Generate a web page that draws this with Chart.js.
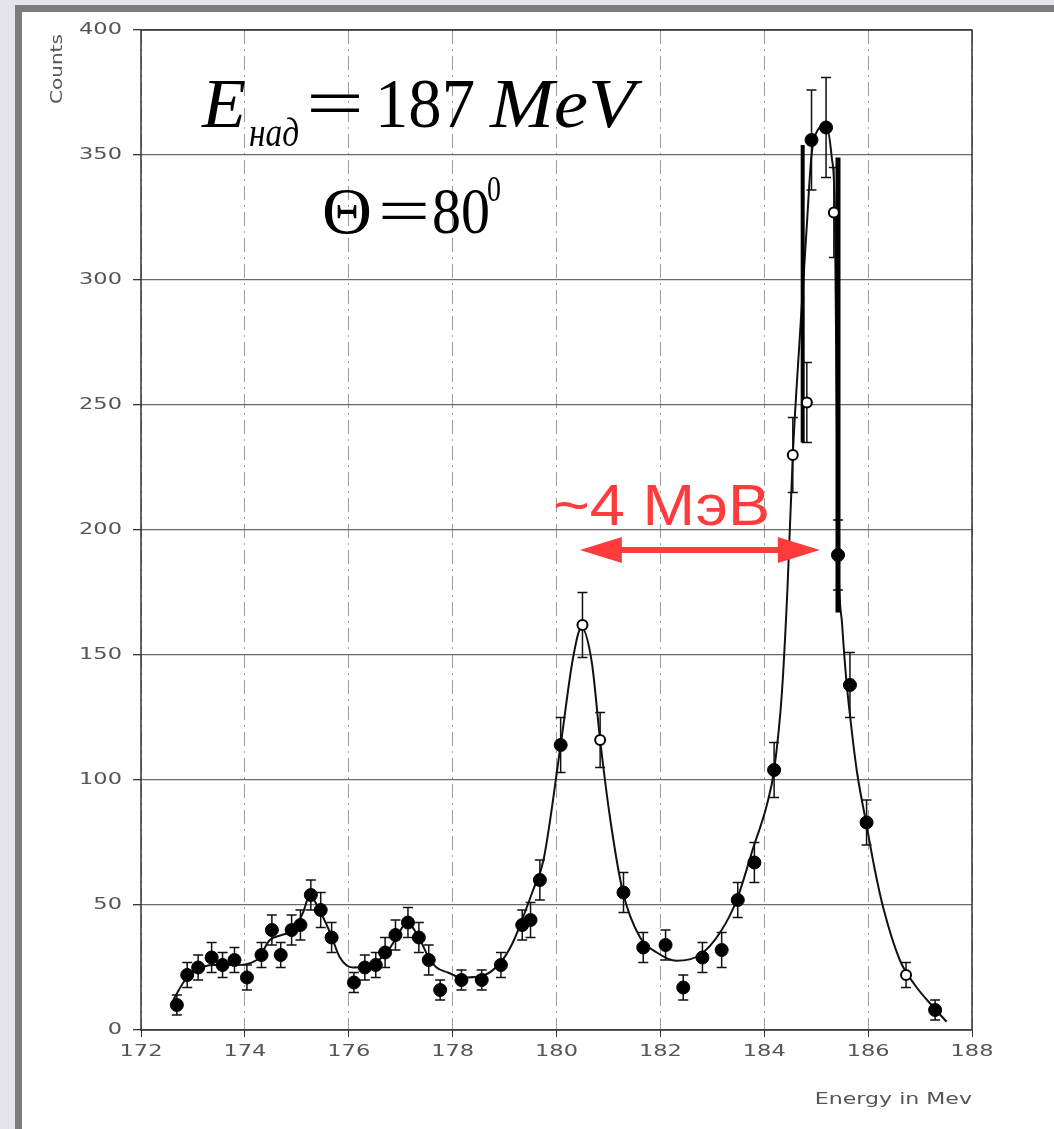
<!DOCTYPE html>
<html lang="ru">
<head>
<meta charset="UTF-8">
<title>Counts vs Energy in MeV</title>
<style>
  html, body { margin: 0; padding: 0; background: #e4e4ea; overflow: hidden; }
  #frame {
    position: absolute; left: 15px; top: 5px; width: 1100px; height: 1200px;
    background: #fff; border-left: 7px solid #7c7c7c; border-top: 7px solid #7c7c7c;
  }
  #chart { position: absolute; left: 0; top: 0; }
</style>
</head>
<body>
<div id="frame"></div>
<canvas id="chart" width="1054" height="1129"></canvas>

<script src="https://cdn.jsdelivr.net/npm/chart.js"></script>
<script>
// measured points (energy in MeV, counts, error bar half-length)
const energy = [172.69, 172.89, 173.10, 173.36, 173.57, 173.80, 174.04, 174.32, 174.52, 174.69,
                174.90, 175.07, 175.27, 175.46, 175.67, 176.10, 176.31, 176.52, 176.70, 176.90,
                177.14, 177.35, 177.54, 177.76, 178.17, 178.56, 178.93, 179.34, 179.50, 179.68,
                180.08, 180.50, 180.84, 181.29, 181.67, 182.10, 182.44, 182.81, 183.18, 183.49,
                183.81, 184.19, 184.55, 184.82, 184.91, 185.19, 185.34, 185.42, 185.65, 185.97,
                186.73, 187.29];
const counts = [10, 22, 25, 29, 26, 28, 21, 30, 40, 30,
                40, 42, 54, 48, 37, 19, 25, 26, 31, 38,
                43, 37, 28, 16, 20, 20, 26, 42, 44, 60,
                114, 162, 116, 55, 33, 34, 17, 29, 32, 52,
                67, 104, 230, 251, 356, 361, 327, 190, 138, 83,
                22, 8];
const errors = [4, 5, 5, 6, 5, 5, 5, 5, 6, 5,
                6, 6, 6, 7, 6, 4, 5, 5, 6, 6,
                6, 6, 6, 4, 4, 4, 5, 6, 7, 8,
                11, 13, 11, 8, 6, 6, 5, 6, 7, 7,
                8, 11, 15, 16, 20, 20, 18, 14, 13, 9,
                5, 4];
// 1 = open circle
const hollow = [0, 0, 0, 0, 0, 0, 0, 0, 0, 0,
                0, 0, 0, 0, 0, 0, 0, 0, 0, 0,
                0, 0, 0, 0, 0, 0, 0, 0, 0, 0,
                0, 1, 1, 0, 0, 0, 0, 0, 0, 0,
                0, 0, 1, 1, 0, 0, 1, 0, 0, 0,
                1, 0];

// fitted curve
const fitE = [172.62, 172.85, 173.07, 173.39, 173.79, 174.23, 174.48, 174.71, 174.93, 175.12,
              175.25, 175.41, 175.64, 175.83, 176.08, 176.37, 176.73, 176.92, 177.12, 177.35,
              177.54, 177.69, 177.91, 178.17, 178.56, 178.91, 179.16, 179.39, 179.55, 179.75,
              180.08, 180.32, 180.48, 180.68, 180.84, 181.03, 181.28, 181.61, 181.93, 182.31,
              182.76, 183.15, 183.47, 183.79, 184.05, 184.19, 184.34, 184.45, 184.55, 184.69,
              184.82, 184.91, 185.03, 185.19, 185.30, 185.36, 185.42, 185.50, 185.58, 185.65,
              185.78, 185.97, 186.13, 186.29, 186.61, 186.90, 187.25, 187.51];
const fitC = [12, 20, 24, 26, 26, 28, 36, 38, 40, 47,
              54, 49, 39, 29, 25, 25.6, 31, 37, 43, 37,
              29, 25, 23, 21, 21.6, 26.7, 35, 47, 56, 68,
              114, 149, 161, 147, 116, 85, 55, 37, 31, 27.7,
              30, 39, 52, 73, 90, 104, 135, 178, 230, 279,
              322, 350, 360, 362, 349, 327, 195, 162, 140, 126,
              104, 82, 64, 49, 28, 18, 9.3, 3.3];

// hand-drawn vertical strokes near the main peak
const markE = [184.74, 185.42];
const markTop = [354, 349];
const markBottom = [235, 167];
const markWidth = [4, 5];

// red double arrow (~4 MeV)
const arrowFrom = 180.45;
const arrowTo = 185.07;
const arrowAt = 192;

const xTicks = [172, 174, 176, 178, 180, 182, 184, 186, 188];
const yTicks = [0, 50, 100, 150, 200, 250, 300, 350, 400];

const scanGrey = '#555';

function wideText(ctx, text, x, y, sx, align) {
  ctx.save();
  ctx.translate(x, y);
  ctx.scale(sx, 1);
  ctx.textAlign = align;
  ctx.fillText(text, 0, 0);
  ctx.restore();
}

function fitText(ctx, text, x, base, font, width) {
  ctx.font = font;
  const w = ctx.measureText(text).width;
  ctx.save();
  ctx.translate(x, base);
  ctx.scale(width / w, 1);
  ctx.textAlign = 'left';
  ctx.textBaseline = 'alphabetic';
  ctx.fillText(text, 0, 0);
  ctx.restore();
}

const scanPlugin = {
  id: 'scan',
  beforeDatasetsDraw(chart) {
    const { ctx, chartArea: a, scales: { x, y } } = chart;
    ctx.save();
    ctx.strokeStyle = '#333';
    ctx.lineWidth = 1.5;
    ctx.strokeRect(a.left, a.top, a.right - a.left, a.bottom - a.top);

    // error bars
    ctx.strokeStyle = '#111';
    ctx.lineWidth = 1.5;
    energy.forEach((e, i) => {
      const px = x.getPixelForValue(e);
      const top = y.getPixelForValue(counts[i] + errors[i]);
      const bot = y.getPixelForValue(Math.max(0, counts[i] - errors[i]));
      ctx.beginPath();
      ctx.moveTo(px, top); ctx.lineTo(px, bot);
      ctx.moveTo(px - 5, top); ctx.lineTo(px + 5, top);
      ctx.moveTo(px - 5, bot); ctx.lineTo(px + 5, bot);
      ctx.stroke();
    });
    ctx.restore();
  },
  afterDraw(chart) {
    const { ctx, chartArea: a, scales: { x, y } } = chart;
    ctx.save();

    // tick labels, wide lettering like the scan
    ctx.fillStyle = scanGrey;
    ctx.font = '15px "DejaVu Sans"';
    ctx.textBaseline = 'middle';
    yTicks.forEach(v => wideText(ctx, String(v), a.left - 19, y.getPixelForValue(v), 1.5, 'right'));
    ctx.textBaseline = 'top';
    xTicks.forEach(v => wideText(ctx, String(v), x.getPixelForValue(v), a.bottom + 15, 1.5, 'center'));

    // axis titles
    ctx.font = '16px "DejaVu Sans"';
    ctx.textBaseline = 'alphabetic';
    ctx.save();
    ctx.translate(62, 104);
    ctx.rotate(-Math.PI / 2);
    wideText(ctx, 'Counts', 0, 0, 1.25, 'left');
    ctx.restore();
    wideText(ctx, 'Energy in Mev', 972, 1104, 1.38, 'right');

    // formula
    ctx.fillStyle = '#000';
    fitText(ctx, 'E', 202, 127, 'italic 70px "Liberation Serif"', 44);
    fitText(ctx, 'над', 249, 146, 'italic 40px "Liberation Serif"', 50);
    fitText(ctx, '=', 306, 127, '70px "Liberation Serif"', 58);
    fitText(ctx, '187', 375, 127, '70px "Liberation Serif"', 100);
    fitText(ctx, 'MeV', 490, 127, 'italic 70px "Liberation Serif"', 145);
    fitText(ctx, 'Θ', 322, 233, '66px "Liberation Serif"', 50);
    fitText(ctx, '=', 378, 233, '66px "Liberation Serif"', 52);
    fitText(ctx, '80', 432, 233, '66px "Liberation Serif"', 58);
    fitText(ctx, '0', 487, 201, '36px "Liberation Serif"', 14);

    // red annotation
    const red = '#ff3b3b';
    ctx.fillStyle = red;
    fitText(ctx, '~4 МэВ', 553, 525, '58px "Liberation Sans"', 217);
    const x1 = x.getPixelForValue(arrowFrom);
    const x2 = x.getPixelForValue(arrowTo);
    const ay = y.getPixelForValue(arrowAt);
    const head = 42, half = 13;
    ctx.strokeStyle = red;
    ctx.lineWidth = 6;
    ctx.beginPath();
    ctx.moveTo(x1 + head - 2, ay); ctx.lineTo(x2 - head + 2, ay);
    ctx.stroke();
    ctx.beginPath();
    ctx.moveTo(x1, ay); ctx.lineTo(x1 + head, ay - half); ctx.lineTo(x1 + head, ay + half); ctx.closePath();
    ctx.moveTo(x2, ay); ctx.lineTo(x2 - head, ay - half); ctx.lineTo(x2 - head, ay + half); ctx.closePath();
    ctx.fill();

    ctx.restore();
  }
};

const pointData = energy.map((e, i) => ({ x: e, y: counts[i] }));
const curveData = fitE.map((e, i) => ({ x: e, y: fitC[i] }));

const markSets = markE.map((e, i) => ({
  data: [{ x: e, y: markTop[i] }, { x: e, y: markBottom[i] }],
  showLine: true,
  borderColor: '#000',
  borderWidth: markWidth[i],
  pointRadius: 0
}));

new Chart(document.getElementById('chart'), {
  type: 'scatter',
  data: {
    datasets: [
      {
        data: pointData,
        pointRadius: hollow.map(h => h ? 5 : 6.5),
        pointBackgroundColor: hollow.map(h => h ? '#fff' : '#000'),
        pointBorderColor: '#000',
        pointBorderWidth: hollow.map(h => h ? 2 : 1)
      },
      ...markSets,
      {
        data: curveData,
        showLine: true,
        borderColor: '#111',
        borderWidth: 2,
        pointRadius: 0,
        cubicInterpolationMode: 'monotone'
      }
    ]
  },
  options: {
    responsive: false,
    animation: false,
    layout: { padding: { left: 81, right: 82, top: 30, bottom: 59 } },
    plugins: { legend: { display: false }, tooltip: { enabled: false } },
    scales: {
      x: {
        type: 'linear', min: 172, max: 188,
        afterBuildTicks: s => { s.ticks = xTicks.map(v => ({ value: v })); },
        afterFit: s => { s.height = 40; },
        ticks: { display: false },
        grid: { color: '#9a9a9a', lineWidth: 1, tickLength: 7, tickColor: '#333' },
        border: { display: false, dash: [14, 5, 2, 5] }
      },
      y: {
        type: 'linear', min: 0, max: 400,
        afterBuildTicks: s => { s.ticks = yTicks.map(v => ({ value: v })); },
        afterFit: s => { s.width = 60; },
        ticks: { display: false },
        grid: { color: '#6a6a6a', lineWidth: 1.3, tickLength: 8, tickColor: '#333' },
        border: { display: false }
      }
    }
  },
  plugins: [scanPlugin]
});
</script>
</body>
</html>
